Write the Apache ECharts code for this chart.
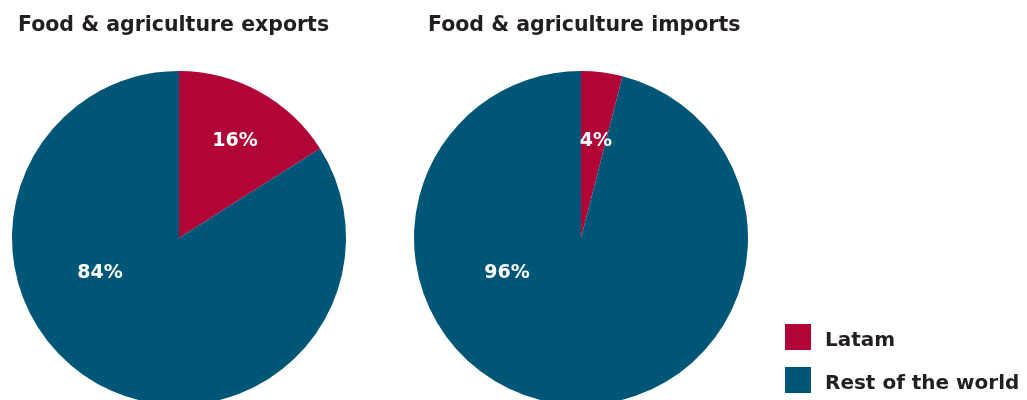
<!DOCTYPE html>
<html>
<head>
<meta charset="utf-8">
<script src="https://cdn.jsdelivr.net/npm/echarts@6/dist/echarts.min.js"></script>
<style>
  html, body { margin: 0; padding: 0; background: #fff; }
  #chart { width: 1027px; height: 400px; }
</style>
</head>
<body>
<div id="chart"></div>
<script>
// Data
const categories = ['Latam', 'Rest of the world'];
const exportsShare = [16, 84];
const importsShare = [4, 96];
const panelTitles = ['Food & agriculture exports', 'Food & agriculture imports'];

const colors = ['#B10537', '#005677'];
const fontFamily = '"DejaVu Sans", sans-serif';
const textColor = '#231F20';

// label offsets from pie centre, as placed in the reference
const labelOffsets = [
  [[56, -97], [-79, 35]],
  [[15, -97], [-74, 35]]
];
const centers = [[179, 238], [581, 238]];

const chart = echarts.init(document.getElementById('chart'));

function makePie(values, idx) {
  return {
    name: panelTitles[idx],
    type: 'pie',
    radius: 167,
    center: centers[idx],
    startAngle: 90,
    clockwise: true,
    silent: true,
    itemStyle: { borderWidth: 0 },
    label: {
      show: true,
      position: 'inside',
      formatter: '{c}%',
      color: '#fff',
      fontFamily: fontFamily,
      fontWeight: 'bold',
      fontSize: 19
    },
    labelLine: { show: false },
    labelLayout: function (params) {
      const off = labelOffsets[idx][params.dataIndex];
      return { x: centers[idx][0] + off[0], y: centers[idx][1] + off[1] };
    },
    data: categories.map((c, i) => ({ name: c, value: values[i] }))
  };
}

chart.setOption({
  animation: false,
  color: colors,
  title: [
    {
      text: panelTitles[0],
      left: 18, top: 15, padding: 0,
      textStyle: { fontFamily: fontFamily, fontWeight: 'bold', fontSize: 20.5, color: textColor }
    },
    {
      text: panelTitles[1],
      left: 428, top: 15, padding: 0,
      textStyle: { fontFamily: fontFamily, fontWeight: 'bold', fontSize: 20.5, color: textColor }
    }
  ],
  legend: {
    orient: 'vertical',
    left: 785,
    top: 324,
    padding: 0,
    itemWidth: 26,
    itemHeight: 26,
    itemGap: 16,
    icon: 'rect',
    selectedMode: false,
    data: categories,
    formatter: '{t|{name}}',
    textStyle: {
      fontFamily: fontFamily, fontWeight: 'bold', fontSize: 20, color: textColor,
      rich: {
        t: { fontFamily: fontFamily, fontWeight: 'bold', fontSize: 20, color: textColor, padding: [8, 0, 0, 9] }
      }
    }
  },
  series: [makePie(exportsShare, 0), makePie(importsShare, 1)]
});
</script>
</body>
</html>
